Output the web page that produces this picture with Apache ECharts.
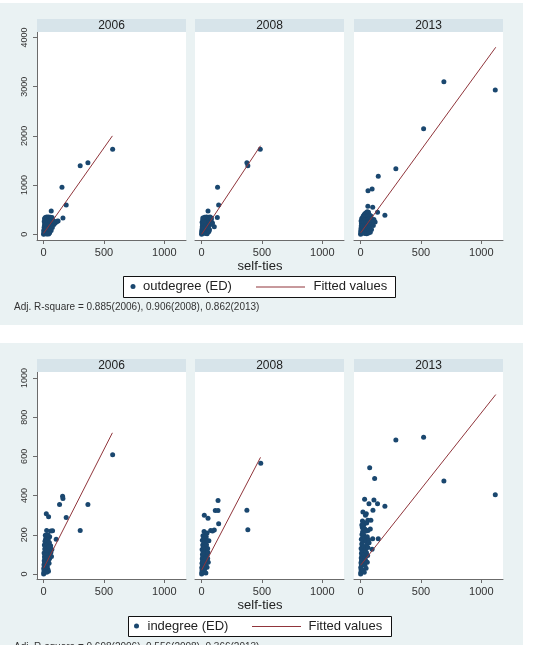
<!DOCTYPE html>
<html>
<head>
<meta charset="utf-8">
<script src="https://cdn.jsdelivr.net/npm/echarts@6/dist/echarts.min.js"></script>
<style>
  html, body { margin: 0; padding: 0; background: #fff; }
  #main { width: 540px; height: 645px; }
</style>
</head>
<body>
<div id="main"></div>
<script>
// facet labels and ticks
const years = ['2006', '2008', '2013'];
const xTicks = [0, 500, 1000];
const outTicks = [0, 1000, 2000, 3000, 4000];
const inTicks = [0, 200, 400, 600, 800, 1000];

// outdegree (ED) vs self-ties
const out2006 = [[572,1728],[367,1455],[303,1395],[152,955],[187,595],[160,331],[63,474],[120,270],[105,250],[90,240],
  [0,0],[2,10],[5,25],[3,45],[8,60],[1,80],[6,100],[10,120],[4,140],[12,160],[7,180],[15,200],[9,220],[18,240],[5,260],
  [20,280],[11,300],[14,340],[25,350],[40,350],[55,345],[70,340],[30,320],[45,300],[60,300],[75,290],[35,270],[50,250],
  [65,230],[80,220],[22,200],[38,180],[52,160],[68,170],[85,200],[28,140],[42,120],[58,110],[72,140],[32,90],[48,70],
  [62,80],[25,50],[38,40],[50,30],[18,20],[30,10],[42,5],[15,70],[20,110],[95,230],[110,265],[85,260],[8,320],[12,20],[25,5]];
const out2008 = [[486,1728],[375,1455],[383,1395],[132,955],[141,595],[130,340],[53,474],[105,155],[90,230],[80,300],
  [0,0],[2,15],[4,35],[1,60],[6,80],[3,100],[8,125],[5,150],[10,170],[7,195],[12,220],[4,245],[15,265],[9,290],[18,320],
  [25,345],[40,350],[55,345],[70,350],[30,310],[45,290],[62,300],[75,280],[35,250],[50,230],[65,240],[22,210],[38,190],
  [55,180],[70,200],[28,150],[42,130],[58,120],[20,120],[32,95],[48,80],[65,95],[25,60],[38,45],[52,40],[18,30],[30,15],
  [45,10],[60,60],[85,210],[12,60],[20,260],[10,330],[80,330]];
const out2013 = [[690,3100],[1116,2933],[522,2146],[292,1333],[146,1179],[95,920],[61,886],[201,386],[140,447],[60,569],
  [100,550],[120,250],[110,300],
  [0,0],[2,20],[4,45],[1,70],[6,95],[3,120],[8,145],[5,170],[10,195],[7,220],[12,245],[4,270],[15,295],[9,320],[18,345],
  [22,370],[28,395],[35,420],[45,440],[55,460],[65,450],[30,350],[40,330],[50,360],[62,380],[75,390],[85,370],[35,290],
  [48,270],[60,300],[72,320],[88,310],[25,240],[40,220],[55,230],[70,250],[95,260],[20,180],[35,160],[50,170],[65,190],
  [80,200],[30,120],[45,100],[60,130],[75,140],[25,70],[40,50],[55,60],[70,80],[20,30],[35,15],[50,10],[65,25],[80,40],
  [90,100],[105,180]];

// indegree (ED) vs self-ties
const in2006 = [[572,608],[367,355],[303,222],[157,397],[160,385],[132,355],[187,289],[22,307],[41,292],[25,222],[74,221],
  [104,178],[60,220],[50,190],
  [0,0],[2,8],[4,18],[1,28],[6,38],[3,48],[8,58],[5,68],[10,78],[7,88],[12,98],[4,108],[15,118],[9,128],[18,138],[6,148],
  [20,158],[11,168],[16,178],[22,188],[14,198],[25,170],[30,150],[35,130],[40,110],[45,95],[50,80],[55,130],[60,110],
  [65,90],[28,190],[38,175],[48,160],[58,145],[68,125],[25,60],[30,40],[35,25],[40,15],[45,55],[20,100],[30,85],[40,70],
  [15,20],[25,10],[18,50],[28,120],[35,200],[45,140]];
const in2008 = [[490,565],[375,326],[383,226],[136,375],[113,324],[136,324],[141,256],[22,300],[53,284],[20,217],[75,222],
  [105,225],[90,220],[45,210],[60,170],
  [0,0],[2,10],[4,20],[1,32],[6,42],[3,55],[8,65],[5,78],[10,88],[7,100],[12,112],[4,125],[15,135],[9,148],[18,160],
  [6,172],[20,185],[11,195],[25,175],[30,160],[35,140],[40,120],[45,100],[50,80],[55,60],[28,200],[38,190],[48,170],
  [22,140],[32,110],[42,90],[52,110],[25,70],[35,50],[45,35],[15,15],[25,25],[35,5],[20,45],[30,80],[40,150],[50,130],
  [14,105],[12,60],[18,30]];
const in2013 = [[292,683],[522,698],[690,474],[1116,404],[75,542],[116,487],[33,382],[201,346],[110,378],[140,358],
  [69,358],[102,326],[19,317],[47,307],[146,180],[95,126],[61,222],[85,275],[60,275],[40,300],[100,180],[80,230],
  [0,0],[2,10],[4,22],[1,34],[6,46],[3,58],[8,70],[5,82],[10,94],[7,106],[12,118],[4,130],[15,142],[9,154],[18,166],
  [6,178],[20,190],[11,202],[16,214],[22,226],[14,238],[26,250],[30,262],[25,200],[35,185],[45,170],[55,190],[65,175],
  [30,140],[40,125],[50,150],[60,135],[70,160],[28,100],[38,85],[48,110],[58,95],[25,60],[35,45],[45,30],[20,20],[30,10],
  [40,70],[55,60],[35,230],[45,220],[50,260],[15,270],[10,250]];

// fitted values (line end points)
const outFit = [[[0,20],[570,2000]], [[0,0],[488,1800]], [[0,30],[1120,3800]]];
const inFit = [[[0,30],[570,720]], [[0,20],[488,595]], [[0,45],[1120,915]]];

const outSets = [out2006, out2008, out2013];
const inSets = [in2006, in2008, in2013];

const dotColor = '#1a476f';
const fitColor = '#90353b';
const bgColor = '#eaf2f3';
const stripColor = '#d7e4ea';
const fontFam = '"Liberation Sans", Arial, sans-serif';

const panelLeft = [37, 195, 354];
const panelW = 149;
const figs = [
  { top: 32, height: 208, yMin: -115, yMax: 4110, ticks: outTicks, sets: outSets, fits: outFit, name: 'outdegree (ED)' },
  { top: 372, height: 207, yMin: -25, yMax: 1030, ticks: inTicks, sets: inSets, fits: inFit, name: 'indegree (ED)' }
];

const plain = v => String(v);

const grid = [], xAxis = [], yAxis = [], series = [];
figs.forEach((f, fi) => {
  panelLeft.forEach((left, pi) => {
    const k = grid.length;
    grid.push({ left: left, top: f.top, width: panelW, height: f.height, show: true,
      backgroundColor: '#fff', borderWidth: 0 });
    xAxis.push({
      type: 'value', gridIndex: k, min: -55, max: 1180,
      splitLine: { show: false },
      axisLine: { show: true, onZero: false, lineStyle: { color: '#6b6b6b', width: 1 } },
      axisTick: { show: true, length: 4, customValues: xTicks, lineStyle: { color: '#6b6b6b' } },
      axisLabel: { customValues: xTicks, formatter: plain, fontSize: 11, color: '#333', margin: 7, fontFamily: fontFam }
    });
    yAxis.push({
      type: 'value', gridIndex: k, min: f.yMin, max: f.yMax, show: pi === 0,
      splitLine: { show: false },
      axisLine: { show: true, onZero: false, lineStyle: { color: '#6b6b6b', width: 1 } },
      axisTick: { show: true, length: 4, customValues: f.ticks, lineStyle: { color: '#6b6b6b' } },
      axisLabel: { customValues: f.ticks, formatter: plain, fontSize: 9, color: '#333', margin: 8, rotate: 90, fontFamily: fontFam }
    });
    series.push({
      type: 'scatter', xAxisIndex: k, yAxisIndex: k, data: f.sets[pi],
      symbolSize: 5, itemStyle: { color: dotColor, opacity: 1 }, silent: true
    });
    series.push({
      type: 'line', xAxisIndex: k, yAxisIndex: k, data: f.fits[pi],
      showSymbol: false, lineStyle: { color: fitColor, width: 1 }, silent: true, z: 3
    });
  });
});

const graphic = [];
// figure backgrounds
graphic.push({ type: 'rect', z: -100, shape: { x: 0, y: 3, width: 523, height: 322 }, style: { fill: bgColor } });
graphic.push({ type: 'rect', z: -100, shape: { x: 0, y: 343, width: 523, height: 302 }, style: { fill: bgColor } });

figs.forEach((f, fi) => {
  panelLeft.forEach((left, pi) => {
    graphic.push({ type: 'rect', z: 5, shape: { x: left, y: f.top - 13, width: panelW, height: 13 }, style: { fill: stripColor } });
    graphic.push({ type: 'text', z: 6, x: left + panelW / 2, y: f.top - 6.5,
      style: { text: years[pi], font: '12px ' + fontFam, fill: '#222', textAlign: 'center', textVerticalAlign: 'middle' } });
  });
});

// axis titles
graphic.push({ type: 'text', z: 6, x: 260, y: 266,
  style: { text: 'self-ties', font: '13px ' + fontFam, fill: '#222', textAlign: 'center', textVerticalAlign: 'middle' } });
graphic.push({ type: 'text', z: 6, x: 260, y: 605,
  style: { text: 'self-ties', font: '13px ' + fontFam, fill: '#222', textAlign: 'center', textVerticalAlign: 'middle' } });

// legends
const legends = [
  { x: 123, y: 276, w: 272, h: 21, dot: 133, txt: 143, l0: 256, l1: 305, ftxt: 313.5, name: figs[0].name },
  { x: 128, y: 616, w: 263, h: 20, dot: 136.5, txt: 147.5, l0: 252, l1: 301, ftxt: 308.5, name: figs[1].name }
];
legends.forEach(L => {
  const cy = L.y + L.h / 2;
  graphic.push({ type: 'rect', z: 5, shape: { x: L.x + 0.5, y: L.y + 0.5, width: L.w, height: L.h },
    style: { fill: '#fff', stroke: '#111', lineWidth: 1 } });
  graphic.push({ type: 'circle', z: 6, shape: { cx: L.dot, cy: cy, r: 2.5 }, style: { fill: dotColor } });
  graphic.push({ type: 'text', z: 6, x: L.txt, y: cy,
    style: { text: L.name, font: '13px ' + fontFam, fill: '#222', textAlign: 'left', textVerticalAlign: 'middle' } });
  graphic.push({ type: 'line', z: 6, shape: { x1: L.l0, y1: cy + 0.5, x2: L.l1, y2: cy + 0.5 }, style: { stroke: fitColor, lineWidth: 1 } });
  graphic.push({ type: 'text', z: 6, x: L.ftxt, y: cy,
    style: { text: 'Fitted values', font: '13px ' + fontFam, fill: '#222', textAlign: 'left', textVerticalAlign: 'middle' } });
});

// notes
graphic.push({ type: 'text', z: 6, x: 14, y: 307,
  style: { text: 'Adj. R-square = 0.885(2006), 0.906(2008), 0.862(2013)', font: '10px ' + fontFam, fill: '#333',
    textAlign: 'left', textVerticalAlign: 'middle' } });
graphic.push({ type: 'text', z: 6, x: 14, y: 647,
  style: { text: 'Adj. R-square = 0.698(2006), 0.556(2008), 0.366(2013)', font: '10px ' + fontFam, fill: '#333',
    textAlign: 'left', textVerticalAlign: 'middle' } });

const chart = echarts.init(document.getElementById('main'), null, { renderer: 'canvas' });
chart.setOption({
  backgroundColor: '#fff',
  animation: false,
  grid: grid,
  xAxis: xAxis,
  yAxis: yAxis,
  series: series,
  graphic: graphic
});
</script>
</body>
</html>
